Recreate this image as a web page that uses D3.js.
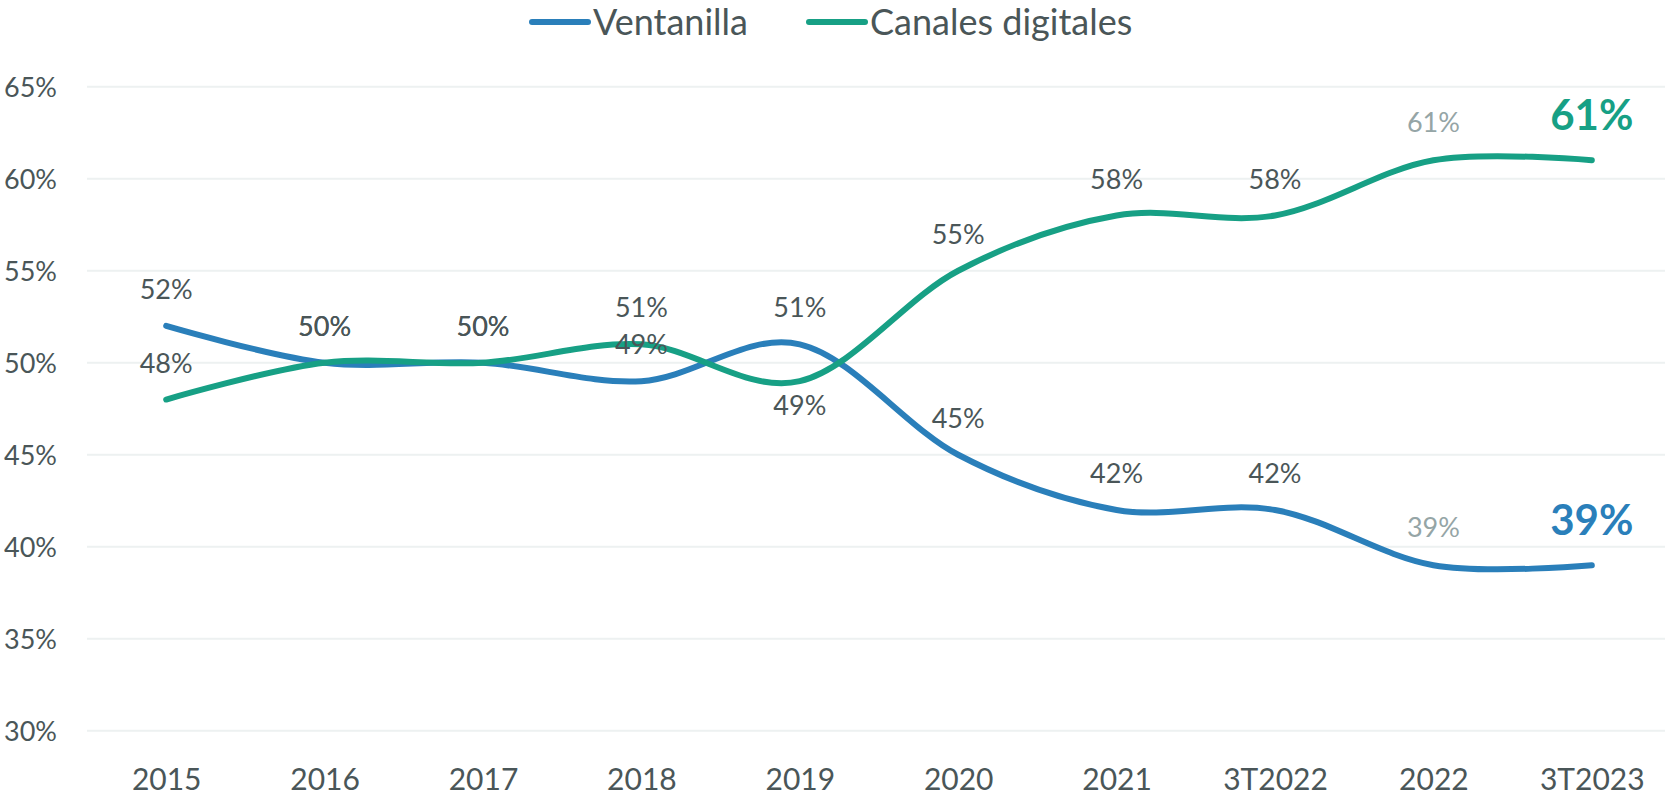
<!DOCTYPE html>
<html>
<head>
<meta charset="utf-8">
<script src="https://cdn.jsdelivr.net/npm/d3@7"></script>
<style>
  html, body { margin: 0; padding: 0; background: #ffffff; }
  svg { display: block; }
  text { font-family: Lato, "Open Sans", sans-serif; }
</style>
</head>
<body>
<svg id="chart" width="1665" height="797"></svg>
<script>
// ---- data ----
const categories = ["2015", "2016", "2017", "2018", "2019", "2020", "2021", "3T2022", "2022", "3T2023"];
const ventanilla = [0.52, 0.50, 0.50, 0.49, 0.51, 0.45, 0.42, 0.42, 0.39, 0.39];
const canalesDigitales = [0.48, 0.50, 0.50, 0.51, 0.49, 0.55, 0.58, 0.58, 0.61, 0.61];
const seriesNames = ["Ventanilla", "Canales digitales"];
const yTicks = [0.30, 0.35, 0.40, 0.45, 0.50, 0.55, 0.60, 0.65];

// ---- styles ----
const colors = { "Ventanilla": "#2a7fba", "Canales digitales": "#17a085" };
const textColor = "#4a5658";
const mutedColor = "#95a5a6";
const gridColor = "#edf1f1";

const svg = d3.select("#chart");
const W = 1665, H = 797;
const plotLeft = 87, plotRight = 1671;

const x = d3.scalePoint().domain(categories).range([plotLeft, plotRight]).padding(0.5);
const y = d3.scaleLinear().domain([0.30, 0.65]).range([730.8, 86.7]);

// gridlines
svg.append("g").selectAll("line").data(yTicks).join("line")
  .attr("x1", plotLeft).attr("x2", W)
  .attr("y1", d => y(d)).attr("y2", d => y(d))
  .attr("stroke", gridColor).attr("stroke-width", 2);

// y axis
const yAxis = svg.append("g").attr("transform", "translate(57,0)")
  .call(d3.axisLeft(y).tickValues(yTicks).tickSize(0).tickPadding(0).tickFormat(d3.format(".0%")));
yAxis.select(".domain").remove();
yAxis.selectAll("text")
  .attr("font-family", "Lato, 'Open Sans', sans-serif")
  .attr("font-size", 27).attr("fill", textColor)
  .attr("dy", "0.36em");

// x axis
const xAxis = svg.append("g").attr("transform", "translate(0,0)")
  .call(d3.axisBottom(x).tickSize(0).tickPadding(0));
xAxis.select(".domain").remove();
xAxis.selectAll("text")
  .attr("font-family", "Lato, 'Open Sans', sans-serif")
  .attr("font-size", 30).attr("fill", textColor)
  .attr("y", 790).attr("dy", 0);

// lines
const seriesData = [
  { name: "Ventanilla", values: ventanilla },
  { name: "Canales digitales", values: canalesDigitales }
];
const line = d3.line()
  .x((d, i) => x(categories[i]))
  .y(d => y(d))
  .curve(d3.curveCardinal.tension(0));

svg.append("g").selectAll("path").data(seriesData).join("path")
  .attr("d", d => line(d.values))
  .attr("fill", "none")
  .attr("stroke", d => colors[d.name])
  .attr("stroke-width", 6)
  .attr("stroke-linecap", "round")
  .attr("stroke-linejoin", "round");

// data labels
const last = categories.length - 1;
const labels = [];
seriesData.forEach(s => {
  s.values.forEach((v, i) => {
    const below = (s.name === "Canales digitales" && categories[i] === "2019");
    let size = 27, weight = "normal", fill = textColor, off = -27;
    if (i === last) { size = 42; weight = "bold"; fill = colors[s.name]; off = -30; }
    else if (i === last - 1) { fill = mutedColor; off = -28; }
    if (below) off = 34;
    labels.push({ x: x(categories[i]), y: y(v) + off, text: d3.format(".0%")(v), size, weight, fill });
  });
});
svg.append("g").selectAll("text").data(labels).join("text")
  .attr("x", d => d.x).attr("y", d => d.y)
  .attr("text-anchor", "middle")
  .attr("font-size", d => d.size)
  .attr("font-weight", d => d.weight)
  .attr("fill", d => d.fill)
  .text(d => d.text);

// legend
const legendItems = [
  { name: "Ventanilla", x1: 532, x2: 588, tx: 593 },
  { name: "Canales digitales", x1: 809, x2: 865, tx: 870 }
];
const lg = svg.append("g");
lg.selectAll("line").data(legendItems).join("line")
  .attr("x1", d => d.x1).attr("x2", d => d.x2)
  .attr("y1", 22).attr("y2", 22)
  .attr("stroke", d => colors[d.name]).attr("stroke-width", 6)
  .attr("stroke-linecap", "round");
lg.selectAll("text").data(legendItems).join("text")
  .attr("x", d => d.tx).attr("y", 35)
  .attr("font-size", 36).attr("fill", textColor)
  .text(d => d.name);
</script>
</body>
</html>
